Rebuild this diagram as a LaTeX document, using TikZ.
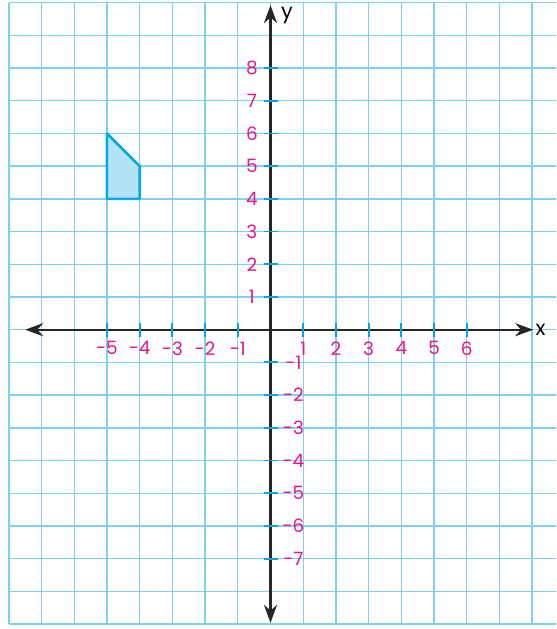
\documentclass[tikz,border=0pt]{standalone}
\usepackage{fontspec}
\setmainfont{Poppins}
\usetikzlibrary{arrows.meta}

\definecolor{gridblue}{RGB}{128,208,240}
\definecolor{tickblue}{RGB}{0,165,225}
\definecolor{labelpink}{RGB}{232,20,140}
\definecolor{shapefill}{RGB}{180,226,246}
\definecolor{shapeline}{RGB}{0,172,232}

\begin{document}
\begin{tikzpicture}[
  gridline/.style={gridblue, line width=1.2pt},
  axis/.style={{Stealth[length=5.5mm, width=4mm]}-{Stealth[length=5.5mm, width=4mm]}, line width=2pt, black!85},
  tick/.style={tickblue, line width=1.6pt},
  num/.style={text=labelpink, font=\fontsize{16}{18}\selectfont, inner sep=1pt},
  axlabel/.style={font=\fontsize{18}{20}\selectfont, inner sep=1pt},
]
\useasboundingbox (-8.27,-9.15) rectangle (8.73,10.08);

% === Grid paper ===
\draw[gridline] (-8,-9) grid (8.73,10);

% === Shape ===
\draw[shapeline, fill=shapefill, line width=2.2pt, line join=round]
  (-5,6) -- (-4,5) -- (-4,4) -- (-5,4) -- cycle;

% === Axes ===
\coordinate (xmin) at (-7.5,0);
\coordinate (xmax) at (8.03,0);
\coordinate (ymin) at (0,-8.96);
\coordinate (ymax) at (0,9.92);
\draw[axis] (xmin) -- (xmax);
\draw[axis] (ymin) -- (ymax);
\node[axlabel, right=1pt] (xlab) at (xmax) {x};
\node[axlabel] (ylab) at (0.5,9.62) {y};

% === Ticks and numbers ===
\foreach \i in {-5,...,-1,1,2,...,6}
{
  \draw[tick] (\i,-0.22) -- (\i,0.22);
  \node[num] (xn\i) at (\i,-0.57) {\i};
}
\foreach \j in {1,...,8}
{
  \draw[tick] (-0.21,\j) -- (0.22,\j);
  \node[num] (yn\j) at (-0.57,\j) {\j};
}
\foreach \j in {-7,...,-1}
{
  \draw[tick] (-0.21,\j) -- (0.22,\j);
  \node[num] (yn\j) at (0.7,\j) {\j};
}

\end{tikzpicture}
\end{document}
